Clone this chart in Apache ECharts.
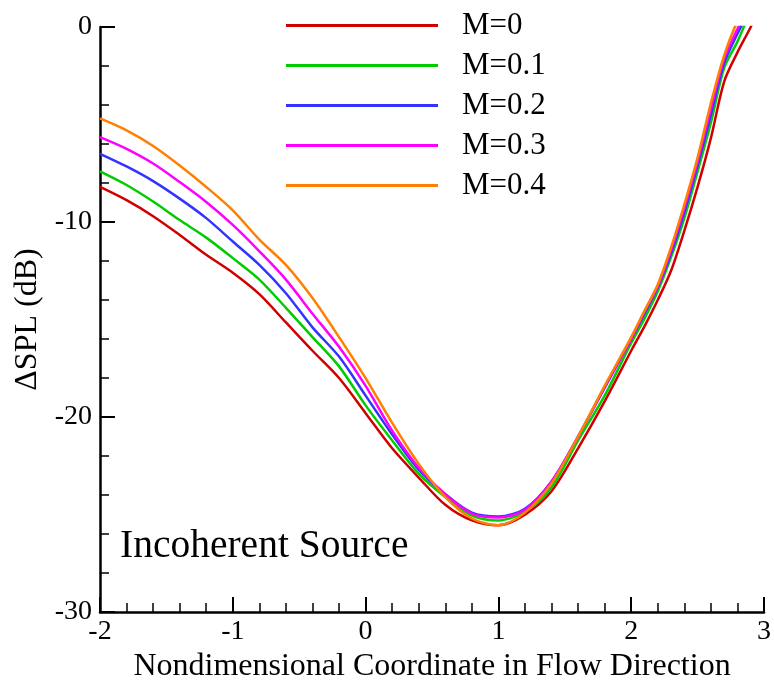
<!DOCTYPE html>
<html>
<head>
<meta charset="utf-8">
<script src="https://cdn.jsdelivr.net/npm/echarts@6/dist/echarts.min.js"></script>
<style>html,body{margin:0;padding:0;background:#fff}#c{width:774px;height:688px}</style>
</head>
<body>
<div id="c"></div>
<script>
var xs = [-2,-1.8,-1.6,-1.4,-1.2,-1,-0.8,-0.6,-0.4,-0.2,0,0.2,0.4,0.6,0.8,1,1.2,1.4,1.6,1.8,2,2.1,2.2,2.3,2.4,2.5,2.6,2.7,2.8,2.9,3.0];
var m0  = [-8.2,-8.88,-9.7,-10.66,-11.68,-12.6,-13.7,-15.15,-16.6,-18.0,-19.8,-21.6,-23.1,-24.5,-25.3,-25.55,-25.0,-23.8,-21.6,-19.2,-16.6,-15.35,-14.0,-12.5,-10.45,-8.2,-5.7,-2.8,-1.3,0.0,1.5];
var m01 = [-7.4,-8.1,-8.95,-9.9,-10.8,-11.85,-12.95,-14.4,-15.9,-17.4,-19.4,-21.2,-22.9,-24.1,-25.05,-25.3,-24.85,-23.6,-21.2,-18.9,-16.2,-14.95,-13.55,-11.8,-9.8,-7.4,-4.9,-2.1,-0.75,0.8,2.0];
var m02 = [-6.5,-7.15,-7.9,-8.8,-9.8,-11.0,-12.2,-13.65,-15.4,-16.9,-18.9,-20.9,-22.7,-23.95,-24.9,-25.1,-24.7,-23.3,-21.0,-18.5,-16.0,-14.7,-13.35,-11.6,-9.5,-7.1,-4.5,-1.85,-0.35,1.0,2.5];
var m03 = [-5.65,-6.25,-7.0,-7.95,-8.97,-10.15,-11.5,-12.95,-14.7,-16.4,-18.4,-20.7,-22.6,-23.95,-24.95,-25.15,-24.75,-23.3,-21.0,-18.45,-16.0,-14.6,-13.3,-11.45,-9.3,-6.9,-4.2,-1.65,-0.1,1.2,2.5];
var m04 = [-4.69,-5.3,-6.1,-7.1,-8.2,-9.4,-10.9,-12.2,-13.9,-15.9,-18.0,-20.3,-22.4,-24.1,-25.2,-25.55,-24.9,-23.4,-21.0,-18.4,-15.9,-14.55,-13.2,-11.3,-9.1,-6.7,-3.9,-1.45,0.3,1.5,3.0];
var names = ['M=0','M=0.1','M=0.2','M=0.3','M=0.4'];
var colors = ['#d00000','#00cc00','#3333ff','#ff00ff','#ff8000'];
var xTicks = [-2,-1,0,1,2,3];
var yTicks = [-30,-20,-10,0];

var F = '"Liberation Serif","Times New Roman",serif';
function pairs(ys){ return xs.map(function(x,i){ return [x, ys[i]]; }); }
var all = [m0,m01,m02,m03,m04];
var series = all.map(function(ys,i){
  return {
    name: names[i], type: 'line', data: pairs(ys),
    showSymbol: false, symbol: 'none', smooth: 0.3,
    clip: true,
    lineStyle: {color: colors[i], width: 2.5},
    itemStyle: {color: colors[i]},
    emphasis: {disabled: true}
  };
});
var chart = echarts.init(document.getElementById('c'), null, {renderer: 'canvas'});
chart.setOption({
  animation: false,
  backgroundColor: '#fff',
  title: {
    text: 'Incoherent Source', left: 120, top: 527, padding: 0,
    textStyle: {fontFamily: F, fontSize: 39.5, fontWeight: 'normal', color: '#000'}
  },
  legend: {
    orient: 'vertical', left: 286, top: 10, padding: 0,
    itemWidth: 152, itemHeight: 3, itemGap: 9,
    data: names.map(function(n,i){ return {name: n, icon: 'rect', itemStyle:{color: colors[i]}}; }),
    textStyle: {fontFamily: F, fontSize: 31, color: '#000', padding: [0,0,0,19], lineHeight: 31},
    selectedMode: false
  },
  grid: {left: 100, top: 27, right: 8.5, bottom: 71, containLabel: false},
  xAxis: {
    type: 'value', min: xTicks[0], max: xTicks[xTicks.length-1], interval: 1,
    name: 'Nondimensional Coordinate in Flow Direction', nameLocation: 'middle', nameGap: 36,
    nameTextStyle: {fontFamily: F, fontSize: 32, color: '#000'},
    axisLine: {show: true, onZero: false, lineStyle: {color: '#000', width: 2.5}},
    axisTick: {show: true, inside: true, length: 15, lineStyle: {color: '#000', width: 2}},
    minorTick: {show: true, splitNumber: 5, length: 9, lineStyle: {color: '#000', width: 1.5}},
    axisLabel: {fontFamily: F, fontSize: 28, color: '#000', margin: 6},
    splitLine: {show: false}
  },
  yAxis: {
    type: 'value', min: yTicks[0], max: yTicks[yTicks.length-1], interval: 10,
    name: 'ΔSPL (dB)', nameLocation: 'middle', nameGap: 51,
    nameTextStyle: {fontFamily: F, fontSize: 32, color: '#000'},
    axisLine: {show: true, onZero: false, lineStyle: {color: '#000', width: 2.5}},
    axisTick: {show: true, inside: true, length: 15, lineStyle: {color: '#000', width: 2}},
    minorTick: {show: true, splitNumber: 5, length: 9, lineStyle: {color: '#000', width: 1.5}},
    axisLabel: {fontFamily: F, fontSize: 28, color: '#000', margin: 8},
    splitLine: {show: false}
  },
  series: series
});
</script>
</body>
</html>
